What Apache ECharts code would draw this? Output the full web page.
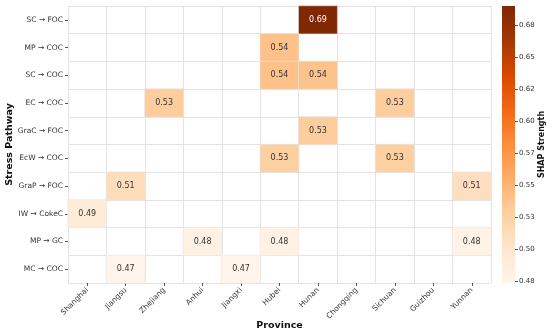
<!DOCTYPE html>
<html>
<head>
<meta charset="utf-8">
<script src="https://cdn.jsdelivr.net/npm/echarts@6/dist/echarts.min.js"></script>
<style>html,body{margin:0;padding:0;background:#fff}#c{width:550px;height:336px}</style>
</head>
<body>
<div id="c"></div>
<script>
var provinces = ['Shanghai','Jiangsu','Zhejiang','Anhui','Jiangxi','Hubei','Hunan','Chongqing','Sichuan','Guizhou','Yunnan'];
var pathways = ['SC → FOC','MP → COC','SC → COC','EC → COC','GraC → FOC','EcW → COC','GraP → FOC','IW → CokeC','MP → GC','MC → COC'];
// [pathway, province, value]
var cells = [
  ['SC → FOC','Hunan',0.690],
  ['MP → COC','Hubei',0.540],
  ['SC → COC','Hubei',0.540],
  ['SC → COC','Hunan',0.538],
  ['EC → COC','Zhejiang',0.530],
  ['EC → COC','Sichuan',0.530],
  ['GraC → FOC','Hunan',0.530],
  ['EcW → COC','Hubei',0.528],
  ['EcW → COC','Sichuan',0.528],
  ['GraP → FOC','Jiangsu',0.512],
  ['GraP → FOC','Yunnan',0.510],
  ['IW → CokeC','Shanghai',0.490],
  ['MP → GC','Anhui',0.480],
  ['MP → GC','Hubei',0.480],
  ['MP → GC','Yunnan',0.478],
  ['MC → COC','Jiangsu',0.474],
  ['MC → COC','Jiangxi',0.473]
];
var colorMin = 0.4734, colorMax = 0.6904;
var cbTicks = [0.475,0.500,0.525,0.550,0.575,0.600,0.625,0.650,0.675];
var cbTickLabels = ['0.48','0.50','0.53','0.55','0.57','0.60','0.62','0.65','0.68'];
var oranges = ['#fff5eb','#fee6ce','#fdd0a2','#fdae6b','#fd8d3c','#f16913','#d94801','#a63603','#7f2704'];

var data = cells.map(function(c){
  return {
    value:[provinces.indexOf(c[1]), pathways.indexOf(c[0]), c[2]],
    label:{color: c[2] > 0.62 ? '#ffffff' : '#333333'}
  };
});

// gradient for the colour bar (bottom = min, top = max)
var stops = oranges.map(function(col, i){
  return {offset: 1 - i/(oranges.length-1), color: col};
}).reverse();

var chart = echarts.init(document.getElementById('c'), null, {renderer:'canvas'});
var font = 'DejaVu Sans';
chart.setOption({
  animation:false,
  textStyle:{fontFamily:font},
  grid:[
    {left:68, top:6, width:423, height:277, show:false, containLabel:false, outerBoundsMode:'none'},
    {left:502, top:6, width:13, height:277, show:false, containLabel:false, outerBoundsMode:'none'}
  ],
  xAxis:[
    {type:'category', data:provinces, gridIndex:0,
     axisLine:{show:false},
     axisTick:{show:true, alignWithLabel:true, length:3, lineStyle:{color:'#555'}},
     axisLabel:{rotate:45, fontSize:7.5, color:'#333', margin:6, interval:0, fontFamily:font},
     splitLine:{show:true, lineStyle:{color:'#e3e3e3', width:1}},
     name:'Province', nameLocation:'middle', nameGap:38, nameMoveOverlap:false,
     nameTextStyle:{fontWeight:'bold', fontSize:9.5, color:'#111', fontFamily:font}},
    {type:'category', gridIndex:1, show:false, data:['cb'], boundaryGap:true}
  ],
  yAxis:[
    {type:'category', data:pathways, inverse:true, gridIndex:0,
     axisLine:{show:false},
     axisTick:{show:true, alignWithLabel:true, length:3, lineStyle:{color:'#555'}},
     axisLabel:{fontSize:7.5, color:'#333', margin:5, interval:0, fontFamily:font},
     splitLine:{show:true, lineStyle:{color:'#e3e3e3', width:1}},
     name:'Stress Pathway', nameLocation:'middle', nameGap:53, nameMoveOverlap:false,
     nameTextStyle:{fontWeight:'bold', fontSize:9.5, color:'#111', fontFamily:font}},
    {type:'value', gridIndex:1, position:'right', min:colorMin, max:colorMax,
     axisLine:{show:false},
     splitLine:{show:false},
     axisTick:{show:true, length:3, customValues:cbTicks, lineStyle:{color:'#555'}},
     axisLabel:{show:true, fontSize:7, color:'#333', margin:4, customValues:cbTicks, fontFamily:font,
       formatter:function(v){
         for (var i=0;i<cbTicks.length;i++){ if (Math.abs(cbTicks[i]-v)<1e-6) return cbTickLabels[i]; }
         return '';
       }},
     name:'SHAP Strength', nameLocation:'middle', nameGap:23, nameRotate:90, nameMoveOverlap:false,
     nameTextStyle:{fontWeight:'bold', fontSize:8, color:'#111', fontFamily:font}}
  ],
  visualMap:{
    type:'continuous', min:colorMin, max:colorMax, seriesIndex:0,
    calculable:false, show:false,
    inRange:{color:oranges}
  },
  series:[
    {type:'heatmap', xAxisIndex:0, yAxisIndex:0, data:data,
     itemStyle:{borderColor:'#e8e8e8', borderWidth:0.6},
     label:{show:true, fontSize:8, fontFamily:font,
       formatter:function(p){ return p.value[2].toFixed(2); }},
     emphasis:{disabled:true}},
    {type:'bar', xAxisIndex:1, yAxisIndex:1, data:[colorMax], barWidth:'100%', silent:true,
     itemStyle:{color:new echarts.graphic.LinearGradient(0,0,0,1,stops)}}
  ]
});
</script>
</body>
</html>
